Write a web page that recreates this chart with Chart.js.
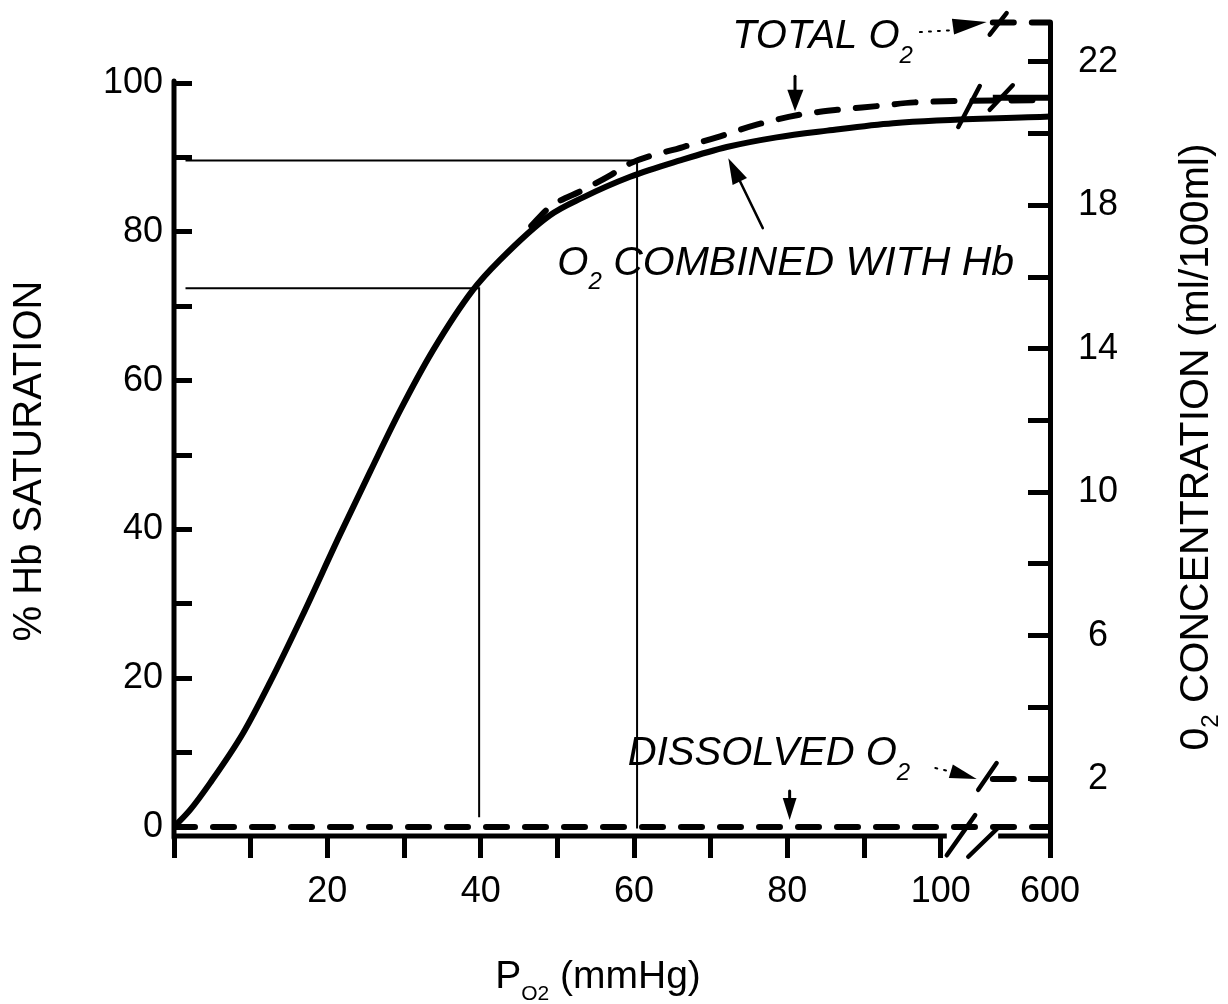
<!DOCTYPE html>
<html>
<head>
<meta charset="utf-8">
<title>O2 dissociation curve</title>
<script src="https://cdn.jsdelivr.net/npm/chart.js@4.4.1/dist/chart.umd.min.js"></script>
<style>
html, body { margin: 0; padding: 0; background: #fff; }
#wrap { width: 1228px; height: 1004px; position: relative; }
</style>
</head>
<body>
<div id="wrap"><canvas id="o2Chart"></canvas></div>
<script>
// O2 combined with Hb (% saturation) against PO2 (mmHg)
var po2 = [0, 2.1, 4.7, 9.0, 12.5, 16.7, 21.6, 25.6, 29.5, 33.8, 39.0, 42.5, 49.0, 53.3, 59.5, 66.0, 72.1, 78.6, 85.2, 93.8, 102.5];
var hbSaturation = [0, 2.3, 5.9, 12.6, 19.4, 28.3, 39.2, 47.8, 56.0, 64.1, 72.2, 76.2, 82.2, 84.6, 87.4, 89.6, 91.4, 92.7, 93.6, 94.6, 95.5];
// total O2 (dashed), same units as the left axis
var totalPo2 = [46.6, 49.0, 53.3, 56.9, 59.5, 66.4, 70.8, 76.0, 81.4, 86.5, 91.7, 96.6, 101.9];
var totalO2 = [80.8, 83.3, 85.6, 87.6, 89.2, 91.4, 92.7, 94.4, 95.7, 96.4, 96.9, 97.4, 97.7];
// dissolved O2 (dashed), sits on the zero line
var dissolvedPo2 = [0, 102.5];
var dissolvedO2 = [0, 0];
// values at 600 mmHg, right axis (ml/100ml)
var highPo2 = 600;
var highTotal = 23.1;
var highHb = 21.0;
var highDissolved = 2.0;
// thin guide lines at PO2 40 and 60
var guidePo2 = [39.8, 60.4];
var guideSat = [72.4, 89.6];

var po2Ticks = [0, 10, 20, 30, 40, 50, 60, 70, 80, 90, 100, 600];
var po2TickLabels = ['', '', '20', '', '40', '', '60', '', '80', '', '100', '600'];
var satTicks = [0, 10, 20, 30, 40, 50, 60, 70, 80, 90, 100];
var satTickLabels = ['0', '', '20', '', '40', '', '60', '', '80', '', '100'];
var concTicks = [2, 4, 6, 8, 10, 12, 14, 16, 18, 20, 22];
var concTickLabels = ['2', '', '6', '', '10', '', '14', '', '18', '', '22'];

var FONT = "'Liberation Sans', Arial, Helvetica, sans-serif";
var AXIS_END = 114.26;   // where 600 sits on the broken x axis
var HIGH_START = 106.8;  // start of the short pieces after the break

function axisPos(v) { return v > 100 ? AXIS_END : v; }
function pts(xa, ya) { return xa.map(function (v, i) { return { x: axisPos(v), y: ya[i] }; }); }
function highPts(v) { return [{ x: HIGH_START, y: v }, { x: axisPos(highPo2), y: v }]; }

function drawRuns(ctx, items, x, y, align) {
  var total = 0;
  items.forEach(function (it) {
    ctx.font = (it.italic ? 'italic ' : '') + it.size + 'px ' + FONT;
    it.w = ctx.measureText(it.text).width;
    total += it.w;
  });
  var cx = align === 'center' ? x - total / 2 : x;
  items.forEach(function (it) {
    ctx.font = (it.italic ? 'italic ' : '') + it.size + 'px ' + FONT;
    ctx.fillText(it.text, cx, y + (it.dy || 0));
    cx += it.w;
  });
}

var extras = {
  id: 'extras',
  afterDraw: function (chart) {
    var ctx = chart.ctx, a = chart.chartArea;
    var xs = chart.scales.x, ys = chart.scales.y;
    function X(v) { return xs.getPixelForValue(v); }
    function Y(v) { return ys.getPixelForValue(v); }
    function seg(x1, y1, x2, y2, w) {
      ctx.lineWidth = w;
      ctx.beginPath(); ctx.moveTo(X(x1), Y(y1)); ctx.lineTo(X(x2), Y(y2)); ctx.stroke();
    }
    function tri(p1, p2, p3) {
      ctx.beginPath();
      ctx.moveTo(X(p1[0]), Y(p1[1])); ctx.lineTo(X(p2[0]), Y(p2[1])); ctx.lineTo(X(p3[0]), Y(p3[1]));
      ctx.closePath(); ctx.fill();
    }
    function head(tip, from, len, half) {
      var tx = X(tip[0]), ty = Y(tip[1]), fx = X(from[0]), fy = Y(from[1]);
      var dx = tx - fx, dy = ty - fy, d = Math.sqrt(dx * dx + dy * dy);
      dx /= d; dy /= d;
      var bx = tx - dx * len, by = ty - dy * len;
      ctx.beginPath();
      ctx.moveTo(tx, ty);
      ctx.lineTo(bx - dy * half, by + dx * half);
      ctx.lineTo(bx + dy * half, by - dx * half);
      ctx.closePath(); ctx.fill();
    }

    ctx.save();
    ctx.strokeStyle = '#000';
    ctx.fillStyle = '#000';
    ctx.lineCap = 'round';

    // left axis only runs up to 100 %
    ctx.lineWidth = 5;
    ctx.beginPath(); ctx.moveTo(a.left, Y(100) - 2); ctx.lineTo(a.left, a.bottom + 2); ctx.stroke();
    // broken x axis
    ctx.lineCap = 'butt';
    ctx.beginPath(); ctx.moveTo(a.left, a.bottom); ctx.lineTo(X(100.8), a.bottom); ctx.stroke();
    ctx.beginPath(); ctx.moveTo(X(107.5), a.bottom); ctx.lineTo(a.right, a.bottom); ctx.stroke();
    ctx.lineCap = 'round';

    // break marks
    seg(100.8, -3.8, 104.5, 1.6, 4.5);
    seg(103.6, -4.0, 107.5, -0.1, 4.5);
    seg(102.3, 94.1, 105.1, 99.6, 4.5);
    seg(106.4, 96.4, 109.4, 99.7, 4.5);
    seg(106.4, 106.5, 108.6, 109.4, 4.5);
    seg(104.9, 5.0, 107.3, 8.6, 4.5);

    // annotations
    ctx.textBaseline = 'alphabetic';
    ctx.textAlign = 'left';
    drawRuns(ctx, [
      { text: 'TOTAL O', size: 40, italic: true },
      { text: '2', size: 24, italic: true, dy: 15 }
    ], X(72.8), Y(104.7), 'left');
    drawRuns(ctx, [
      { text: 'O', size: 40, italic: true },
      { text: '2', size: 24, italic: true, dy: 14 },
      { text: ' COMBINED WITH Hb', size: 41, italic: true }
    ], X(50.0), Y(74.2), 'left');
    drawRuns(ctx, [
      { text: 'DISSOLVED O', size: 40, italic: true },
      { text: '2', size: 24, italic: true, dy: 15 }
    ], X(59.2), Y(8.33), 'left');

    // TOTAL O2 arrows
    ctx.setLineDash([2, 7]);
    seg(97.3, 106.85, 101.5, 107.1, 2);
    seg(99.3, 7.93, 101.5, 7.39, 2);
    ctx.setLineDash([]);
    head([106.0, 108.2], [101.0, 107.5], 34, 8);
    seg(81.0, 100.9, 81.0, 98.8, 3);
    tri([80.0, 99.1], [82.1, 99.1], [81.0, 96.2]);
    // combined with Hb arrow
    seg(76.8, 80.5, 73.3, 87.9, 2.5);
    head([72.3, 89.9], [76.8, 80.5], 26, 8);
    // dissolved arrows
    head([104.7, 6.45], [101.2, 7.53], 27, 7);
    seg(80.3, 4.84, 80.3, 3.6, 3);
    tri([79.4, 3.9], [81.2, 3.9], [80.3, 0.94]);

    // axis titles
    ctx.save();
    ctx.translate(30, 461);
    ctx.rotate(-Math.PI / 2);
    ctx.textBaseline = 'middle';
    drawRuns(ctx, [{ text: '% Hb SATURATION', size: 40 }], 0, 0, 'center');
    ctx.restore();

    ctx.save();
    ctx.translate(1197, 447);
    ctx.rotate(-Math.PI / 2);
    ctx.textBaseline = 'middle';
    drawRuns(ctx, [
      { text: '0', size: 41 },
      { text: '2', size: 24, dy: 14 },
      { text: ' CONCENTRATION (ml/100ml)', size: 41 }
    ], 0, 0, 'center');
    ctx.restore();

    ctx.textBaseline = 'alphabetic';
    drawRuns(ctx, [
      { text: 'P', size: 39 },
      { text: 'O2', size: 21, dy: 12 },
      { text: ' (mmHg)', size: 39 }
    ], 598, 988, 'center');

    ctx.restore();
  }
};

var lineStyle = { borderColor: '#000', pointRadius: 0, fill: false, borderWidth: 6, cubicInterpolationMode: 'monotone' };
var dash = [21, 18];

function fixWidth(w) {
  return function (scale) { scale.width = w; scale.paddingTop = 0; scale.paddingBottom = 0; };
}

new Chart(document.getElementById('o2Chart'), {
  type: 'line',
  data: {
    datasets: [
      Object.assign({ label: 'O2 combined with Hb', data: pts(po2, hbSaturation), yAxisID: 'y' }, lineStyle),
      Object.assign({ label: 'Total O2', data: pts(totalPo2, totalO2), yAxisID: 'y', borderDash: dash, borderCapStyle: 'round' }, lineStyle),
      Object.assign({ label: 'Dissolved O2', data: pts(dissolvedPo2, dissolvedO2), yAxisID: 'y', borderDash: dash, borderCapStyle: 'round' }, lineStyle),
      { label: 'guide 40', data: [{ x: 1.5, y: guideSat[0] }, { x: guidePo2[0], y: guideSat[0] }, { x: guidePo2[0], y: 1.3 }], yAxisID: 'y', borderColor: '#000', borderWidth: 2, pointRadius: 0, tension: 0 },
      { label: 'guide 60', data: [{ x: 1.5, y: guideSat[1] }, { x: guidePo2[1], y: guideSat[1] }, { x: guidePo2[1], y: -0.2 }], yAxisID: 'y', borderColor: '#000', borderWidth: 2, pointRadius: 0, tension: 0 },
      Object.assign({ label: 'Total O2 at 600', data: highPts(highTotal), yAxisID: 'y2', borderDash: dash, borderCapStyle: 'round', clip: false }, lineStyle),
      Object.assign({ label: 'Hb O2 at 600', data: highPts(highHb), yAxisID: 'y2', clip: false }, lineStyle),
      Object.assign({ label: 'Dissolved O2 at 600', data: highPts(highDissolved), yAxisID: 'y2', borderDash: dash, borderCapStyle: 'round', clip: false }, lineStyle)
    ]
  },
  options: {
    responsive: true,
    maintainAspectRatio: false,
    animation: false,
    layout: { padding: { top: 25, left: 0, right: 0, bottom: 0 } },
    plugins: { legend: { display: false }, tooltip: { enabled: false } },
    scales: {
      x: {
        type: 'linear',
        min: 0,
        max: AXIS_END,
        afterBuildTicks: function (scale) { scale.ticks = po2Ticks.map(function (v) { return { value: axisPos(v) }; }); },
        afterFit: function (scale) { scale.height = 168; },
        border: { display: false },
        grid: { drawOnChartArea: false, drawTicks: true, tickLength: 22, lineWidth: 5, color: '#000' },
        ticks: {
          autoSkip: false, maxRotation: 0, padding: 12, color: '#000',
          font: { family: FONT, size: 36 },
          callback: function (v, i) { return po2TickLabels[i]; }
        }
      },
      y: {
        position: 'left',
        min: -1.21,
        max: 107.8,
        afterBuildTicks: function (scale) { scale.ticks = satTicks.map(function (v) { return { value: v }; }); },
        afterFit: fixWidth(174),
        border: { display: false },
        grid: { drawOnChartArea: false, drawTicks: true, tickLength: -18, lineWidth: 5, color: '#000' },
        ticks: {
          autoSkip: false, padding: 29, color: '#000',
          font: { family: FONT, size: 36 },
          callback: function (v, i) { return satTickLabels[i]; }
        }
      },
      y2: {
        position: 'right',
        min: 0.41,
        max: 23.03,
        afterBuildTicks: function (scale) { scale.ticks = concTicks.map(function (v) { return { value: v }; }); },
        afterFit: fixWidth(178),
        border: { display: true, width: 5, color: '#000' },
        grid: { drawOnChartArea: false, drawTicks: true, tickLength: -22, lineWidth: 5, color: '#000' },
        ticks: {
          autoSkip: false, padding: 50, crossAlign: 'center', color: '#000',
          font: { family: FONT, size: 36 },
          callback: function (v, i) { return concTickLabels[i]; }
        }
      }
    }
  },
  plugins: [extras]
});
</script>
</body>
</html>
